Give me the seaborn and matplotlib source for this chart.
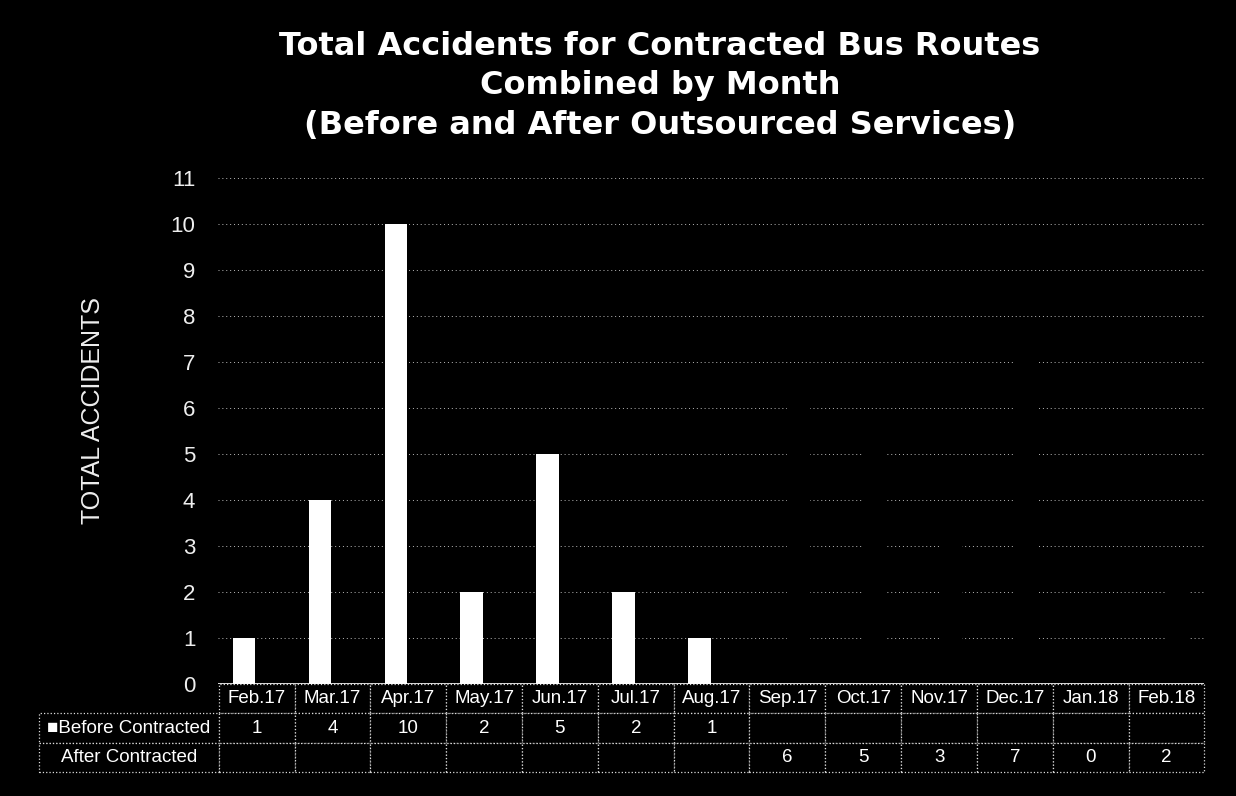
import pandas as pd
import numpy as np
import seaborn as sns
import matplotlib.pyplot as plt

months = ['Feb.17', 'Mar.17', 'Apr.17', 'May.17', 'Jun.17', 'Jul.17', 'Aug.17',
          'Sep.17', 'Oct.17', 'Nov.17', 'Dec.17', 'Jan.18', 'Feb.18']
before = [1, 4, 10, 2, 5, 2, 1, None, None, None, None, None, None]
after = [None, None, None, None, None, None, None, 6, 5, 3, 7, 0, 2]
series = ['Before Contracted', 'After Contracted']

df = pd.DataFrame({'Month': months * 2,
                   'Series': [series[0]] * len(months) + [series[1]] * len(months),
                   'Accidents': before + after})

sns.set_style('dark')
plt.rcParams['font.family'] = ['Liberation Sans', 'DejaVu Sans']

fig = plt.figure(figsize=(12.36, 7.96), dpi=100, facecolor='black')
ax = fig.add_axes([0.176, 0.1407, 0.7985, 0.636])
ax.set_facecolor('black')

# gridlines first so the black "after" bars cover them
for v in range(1, 12):
    ax.axhline(v, color='#bbbbbb', linestyle=(0, (1, 3)), linewidth=0.7, zorder=0)

sns.barplot(data=df, x='Month', y='Accidents', hue='Series', order=months,
            hue_order=series, palette={series[0]: 'white', series[1]: 'black'},
            width=0.6, saturation=1, legend=False, ax=ax, zorder=2,
            edgecolor='none', linewidth=0)

ax.set_ylim(0, 11)
ax.set_xlim(-0.5, len(months) - 0.5)
ax.set_yticks(range(0, 12))
ax.tick_params(axis='y', colors='#eeeeee', labelsize=16, length=0, pad=16)
ax.set_xticks([])
ax.set_xlabel('')
ax.set_ylabel('TOTAL ACCIDENTS', color='#eeeeee', fontsize=18)
ax.yaxis.set_label_coords(-0.1145, 0.54)
for s in ax.spines.values():
    s.set_visible(False)
ax.axhline(0, color='white', linewidth=1.2, zorder=3)

# data table under the axis (first column holds the series names)
fmt = lambda v: '' if v is None else str(v)
cell_text = [['\u25a0Before Contracted'] + [fmt(v) for v in before],
             ['After Contracted'] + [fmt(v) for v in after]]
col_w = [180 / 987] + [1 / len(months)] * len(months)
tbl = ax.table(cellText=cell_text, colLabels=[''] + months,
               cellLoc='center', colWidths=col_w,
               bbox=[-0.181, -0.174, 1.181, 0.174])
tbl.auto_set_font_size(False)
tbl.set_fontsize(13.5)
for (r, c), cell in tbl.get_celld().items():
    cell.set_facecolor('black')
    cell.set_edgecolor('#dddddd')
    cell.set_linestyle(':')
    cell.set_linewidth(0.9)
    cell.get_text().set_color('white')
    if c == 0 and r == 0:
        cell.visible_edges = ''

fig.text(0.534, 0.892, 'Total Accidents for Contracted Bus Routes\nCombined by Month\n(Before and After Outsourced Services)',
         ha='center', va='center', color='white', fontsize=23, fontweight='bold',
         linespacing=1.37, family=['DejaVu Sans'])

fig.savefig('out.png', dpi=100, facecolor='black')
